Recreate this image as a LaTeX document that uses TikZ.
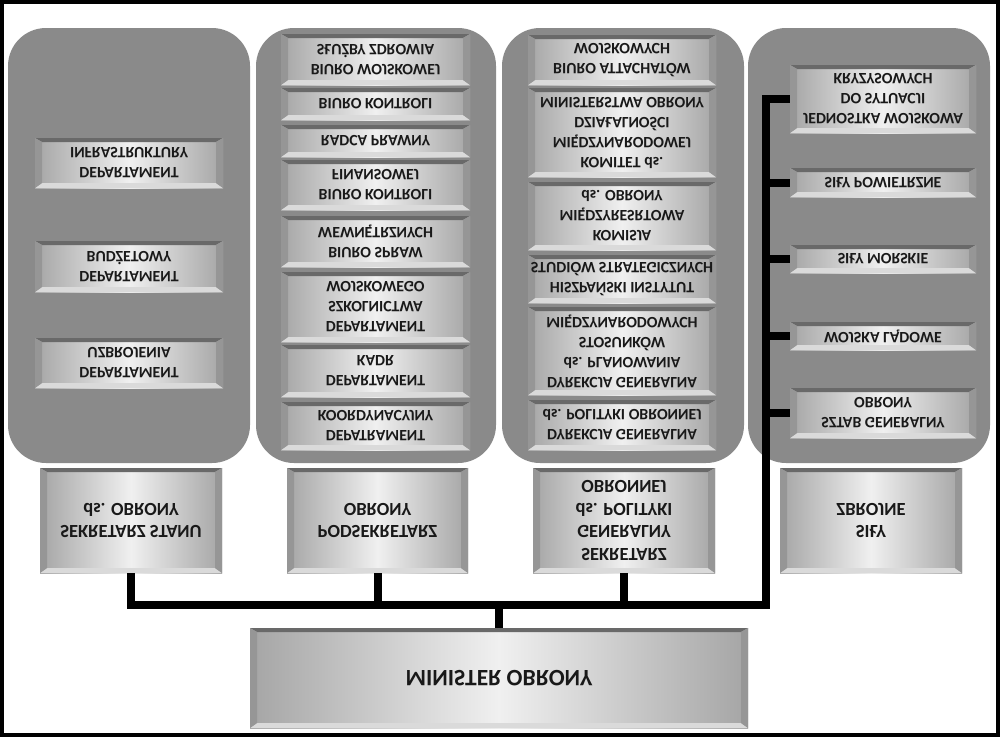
\documentclass[tikz,border=0pt]{standalone}
\usepackage{fontspec}
\setmainfont{Carlito}
\definecolor{panel}{RGB}{138,138,138}
\definecolor{bxmid}{RGB}{240,240,240}
\definecolor{bxedge}{RGB}{165,165,165}
\definecolor{bvtop}{RGB}{105,105,105}
\definecolor{bvbot}{RGB}{218,218,218}
\definecolor{bvside}{RGB}{150,150,150}
\definecolor{txt}{RGB}{25,25,25}
\tikzset{
  panelbox/.style={fill=panel, rounded corners=38pt},
  lbl/.style={yscale=-1, align=center, inner sep=0pt, text=txt},
  conn/.style={line width=8pt, line join=miter, draw=black},
  fs/.style={font=\fontsize{15.8}{20}\selectfont\bfseries},
  fr/.style={font=\fontsize{18.5}{22.5}\selectfont\bfseries},
  fm/.style={font=\fontsize{23.5}{28}\selectfont\bfseries},
}
\newcommand\mybox[7]{%
  \shade[left color=bxedge,right color=bxedge,middle color=bxmid] (#2,#3) rectangle (#4,#5);
  \fill[bvtop] (#2,#3) -- (#4,#3) -- ({#4-7},{#3+4}) -- ({#2+7},{#3+4}) -- cycle;
  \fill[bvbot] (#2,#5) -- (#4,#5) -- ({#4-7},{#5-5}) -- ({#2+7},{#5-5}) -- cycle;
  \fill[bvside] (#2,#3) -- ({#2+7},{#3+4}) -- ({#2+7},{#5-5}) -- (#2,#5) -- cycle;
  \fill[bvside] (#4,#3) -- ({#4-7},{#3+4}) -- ({#4-7},{#5-5}) -- (#4,#5) -- cycle;
  \node[lbl,#7,minimum width={(#4-#2)*1pt},minimum height={(#5-#3)*1pt}] (#1) at ({(#2+#4)/2},{(#3+#5)/2}) {#6};
}
\begin{document}
\begin{tikzpicture}[x=1pt,y=-1pt]
\useasboundingbox (0,0) rectangle (1000,737);
\fill[white] (0,0) rectangle (1000,737);
% panels
\fill[panelbox] (8,28) rectangle (250,463);
\fill[panelbox] (256,28) rectangle (496,463);
\fill[panelbox] (502,28) rectangle (744,463);
\fill[panelbox] (748,28) rectangle (990,463);
% panel 1
\mybox{inf}{35}{138}{223}{188}{DEPARTAMENT\\INFRASTRUKTURY}{fs}
\mybox{bud}{35}{241}{223}{292}{DEPARTAMENT\\BUDŻETOWY}{fs}
\mybox{uzb}{35}{338}{223}{388}{DEPARTAMENT\\UZBROJENIA}{fs}
% panel 2
\mybox{bwsz}{281}{34}{470}{85}{BIURO WOJSKOWEJ\\SŁUŻBY ZDROWIA}{fs}
\mybox{bk}{281}{88}{470}{120}{BIURO KONTROLI}{fs}
\mybox{rp}{281}{125}{470}{157}{RADCA PRAWNY}{fs}
\mybox{bkf}{281}{160}{470}{210}{BIURO KONTROLI\\FINANSOWEJ}{fs}
\mybox{bsw}{281}{216}{470}{267}{BIURO SPRAW\\WEWNĘTRZNYCH}{fs}
\mybox{dsw}{281}{272}{470}{342}{DEPARTAMENT\\SZKOLNICTWA\\WOJSKOWEGO}{fs}
\mybox{kadr}{281}{345}{470}{397}{DEPARTAMENT\\KADR}{fs}
\mybox{koord}{281}{402}{470}{450}{DEPATRAMENT\\KOORDYNACYJNY}{fs}
% panel 3
\mybox{baw}{528}{35}{716}{85}{BIURO ATTACHATÓW\\WOJSKOWYCH}{fs}
\mybox{kom}{528}{88}{716}{177}{KOMITET ds.\\MIĘDZYNARODOWEJ\\DZIAŁALNOŚCI\\MINISTERSTWA OBRONY}{fs}
\mybox{kmr}{528}{182}{716}{250}{KOMISJA\\MIĘDZYRESRTOWA\\ds. OBRONY}{fs}
\mybox{hisz}{528}{255}{716}{303}{HISZPAŃSKI INSTYTUT\\STUDIÓW STRATEGICZNYCH}{fs}
\mybox{dgp}{528}{307}{716}{395}{DYREKCJA GENERALNA\\ds. PLANOWANIA\\STOSUNKÓW\\MIĘDZYNARODOWYCH}{fs}
\mybox{dgpo}{528}{400}{716}{450}{DYREKCJA GENERALNA\\ds. POLITYKI OBRONNEJ}{fs}
% panel 4
\mybox{jw}{790}{65}{976}{133}{JEDNOSTKA WOJSKOWA\\DO SYTUACJI\\KRYZYSOWYCH}{fs}
\mybox{sp}{790}{168}{976}{197}{SIŁY POWIETRZNE}{fs}
\mybox{sm}{790}{245}{976}{273}{SIŁY MORSKIE}{fs}
\mybox{sl}{790}{322}{976}{350}{WOJSKA LĄDOWE}{fs}
\mybox{sg}{790}{388}{976}{438}{SZTAB GENERALNY\\OBRONY}{fs}
% row
\mybox{s1}{40}{468}{222}{573}{SEKRETARZ STANU\\ds. OBRONY}{fr}
\mybox{s2}{287}{468}{468}{573}{PODSEKRETARZ\\OBRONY}{fr}
\mybox{s3}{533}{468}{715}{573}{SEKRETARZ\\GENERALNY\\ds. POLITYKI\\OBRONNEJ}{fr}
\mybox{sz}{780}{468}{962}{573}{SIŁY\\ZBROJNE}{fr}
% minister
\mybox{m}{250}{628}{748}{728}{MINISTER OBRONY}{fm}
% connectors
\coordinate (busR) at (766,605);
\draw[conn] (s1.north) |- (busR) |- (jw.west);
\draw[conn] (s2.north) -- (s2.north |- busR);
\draw[conn] (s3.north) -- (s3.north |- busR);
\draw[conn] (m.south) -- (m.south |- busR);
\draw[conn] (busR |- sp.west) -- (sp.west);
\draw[conn] (busR |- sm.west) -- (sm.west);
\draw[conn] (busR |- sl.west) -- (sl.west);
\draw[conn] (busR |- sg.west) -- (sg.west);
% frame
\draw[line width=4pt] (1.5,1.5) rectangle (998,735);
\end{tikzpicture}
\end{document}
